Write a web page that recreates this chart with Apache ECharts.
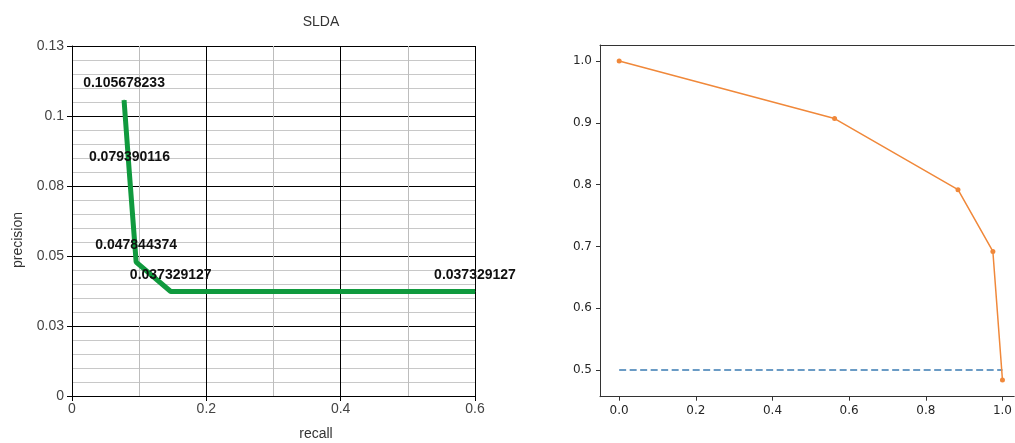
<!DOCTYPE html>
<html>
<head>
<meta charset="utf-8">
<script src="https://cdn.jsdelivr.net/npm/echarts@6/dist/echarts.min.js"></script>
<style>html,body{margin:0;padding:0;background:#fff}#c{width:1015px;height:443px}</style>
</head>
<body>
<div id="c"></div>
<script>
// Left chart (SLDA) data
const sldaRecall = [0.0775, 0.0855, 0.0955, 0.147, 0.6];
const sldaPrecision = [0.105678233, 0.079390116, 0.047844374, 0.037329127, 0.037329127];
const sldaYTickLabels = ['0', '0.03', '0.05', '0.08', '0.1', '0.13'];
const sldaXTickLabels = ['0', '0.2', '0.4', '0.6'];

// Right chart data
const prRecall = [0.0, 0.562, 0.884, 0.975, 1.0];
const prPrecision = [1.0, 0.907, 0.792, 0.692, 0.484];
const baselineX = [0.0, 1.0];
const baselineY = [0.5, 0.5];
const rightXTicks = [0.0, 0.2, 0.4, 0.6, 0.8, 1.0];
const rightYTicks = [0.5, 0.6, 0.7, 0.8, 0.9, 1.0];

const chart = echarts.init(document.getElementById('c'), null, {renderer: 'canvas'});
const zip = (a, b) => a.map((v, i) => [v, b[i]]);
const RX_MIN = -0.05, RX_MAX = 1.0307;

chart.setOption({
  animation: false,
  backgroundColor: '#fff',
  title: {
    text: 'SLDA', left: 316, top: 10, textAlign: 'center',
    textStyle: {fontFamily: 'Liberation Sans', fontSize: 14, fontWeight: 'normal', color: '#333'}
  },
  graphic: [
    {
      type: 'text', x: 316, y: 434,
      style: {text: 'recall', font: '14px "Liberation Sans"', fill: '#333', align: 'center', verticalAlign: 'middle'}
    },
    {
      type: 'text', x: 18, y: 240, rotation: Math.PI / 2,
      style: {text: 'precision', font: '14px "Liberation Sans"', fill: '#333', align: 'center', verticalAlign: 'middle'}
    }
  ],
  grid: [
    {left: 72, top: 46, width: 403, height: 350, containLabel: false},
    {left: 600, top: 45, width: 415, height: 351.7, show: false}
  ],
  xAxis: [
    {
      gridIndex: 0, type: 'value', min: 0, max: 0.6, interval: 0.2,
      axisLine: {show: true, onZero: false, lineStyle: {color: '#000', width: 1}},
      axisTick: {show: true, length: 5, lineStyle: {color: '#000'}},
      minorTick: {show: false, splitNumber: 2},
      minorSplitLine: {show: true, lineStyle: {color: '#bdbdbd', width: 1}},
      splitLine: {show: true, lineStyle: {color: '#000', width: 1}},
      axisLabel: {margin: 6, color: '#444', fontFamily: 'Liberation Sans', fontSize: 14,
        formatter: (v) => sldaXTickLabels[Math.round(v / 0.2)]}
    },
    {
      gridIndex: 1, type: 'value', min: RX_MIN, max: RX_MAX,
      axisLine: {show: true, onZero: false, lineStyle: {color: '#333', width: 1}},
      axisTick: {show: true, length: 4, lineStyle: {color: '#333'}, customValues: rightXTicks},
      splitLine: {show: false},
      axisLabel: {margin: 8, color: '#262626', fontFamily: 'DejaVu Sans', fontSize: 12,
        customValues: rightXTicks, formatter: (v) => v.toFixed(1)}
    },
    {
      gridIndex: 1, type: 'value', min: RX_MIN, max: RX_MAX, position: 'top',
      axisLine: {show: true, onZero: false, lineStyle: {color: '#333', width: 1}},
      axisTick: {show: false}, axisLabel: {show: false}, splitLine: {show: false}
    }
  ],
  yAxis: [
    {
      gridIndex: 0, type: 'value', min: 0, max: 0.125, interval: 0.025,
      axisLine: {show: true, onZero: false, lineStyle: {color: '#000', width: 1}},
      axisTick: {show: true, length: 5, lineStyle: {color: '#000'}},
      minorTick: {show: false, splitNumber: 5},
      minorSplitLine: {show: true, lineStyle: {color: '#c8c8c8', width: 1}},
      splitLine: {show: true, lineStyle: {color: '#000', width: 1}},
      axisLabel: {margin: 8, color: '#444', fontFamily: 'Liberation Sans', fontSize: 14,
        formatter: (v) => sldaYTickLabels[Math.round(v / 0.025)]}
    },
    {
      gridIndex: 1, type: 'value', min: 0.457, max: 1.026,
      axisLine: {show: true, onZero: false, lineStyle: {color: '#333', width: 1}},
      axisTick: {show: true, length: 4, lineStyle: {color: '#333'}, customValues: rightYTicks},
      splitLine: {show: false},
      axisLabel: {margin: 8, color: '#262626', fontFamily: 'DejaVu Sans', fontSize: 12,
        customValues: rightYTicks, formatter: (v) => v.toFixed(1)}
    }
  ],
  series: [
    {
      type: 'line', xAxisIndex: 0, yAxisIndex: 0,
      data: zip(sldaRecall, sldaPrecision),
      symbol: 'circle', symbolSize: 1, showSymbol: true,
      itemStyle: {color: '#109a3e'},
      lineStyle: {color: '#109a3e', width: 5},
      label: {
        show: true, position: 'top', distance: 9,
        color: '#111', fontFamily: 'Liberation Sans', fontSize: 14, fontWeight: 'bold',
        formatter: (p) => String(sldaPrecision[p.dataIndex])
      },
      z: 5
    },
    {
      type: 'line', xAxisIndex: 1, yAxisIndex: 1,
      data: zip(baselineX, baselineY),
      symbol: 'none',
      lineStyle: {color: '#3a7bb3', width: 1.5, type: [7, 3.5]},
      z: 3
    },
    {
      type: 'line', xAxisIndex: 1, yAxisIndex: 1,
      data: zip(prRecall, prPrecision),
      symbol: 'circle', symbolSize: 5,
      itemStyle: {color: '#f0883a', borderWidth: 0},
      lineStyle: {color: '#f0883a', width: 1.5},
      z: 4
    }
  ]
});
</script>
</body>
</html>
